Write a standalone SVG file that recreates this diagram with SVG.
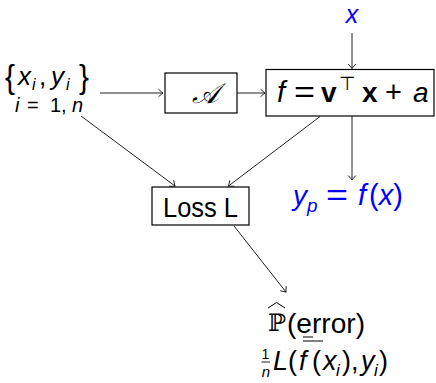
<svg xmlns="http://www.w3.org/2000/svg" width="436" height="383" viewBox="0 0 436 383">
<defs>
<style>
.t{font-family:"Liberation Sans","DejaVu Sans",sans-serif;fill:#000}
.m{font-style:italic}
.b{font-weight:bold}
.blue{fill:#0000ff}
.box{fill:#fff;stroke:#000;stroke-width:1.2}
.c{stroke:#222;stroke-width:1;fill:none}
</style>
<marker id="arr" markerWidth="10" markerHeight="10" refX="0" refY="0" viewBox="-6 -5 7 10" orient="auto" markerUnits="userSpaceOnUse">
<path d="M-4.5,-3.8 Q-1.2,-0.8 0,0 Q-1.2,0.8 -4.5,3.8" fill="none" stroke="#222" stroke-width="1"/>
</marker>
</defs>
<rect width="436" height="383" fill="#fff"/>
<g id="connectors">
<line class="c" x1="100" y1="93" x2="163" y2="93" marker-end="url(#arr)"/>
<line class="c" x1="237" y1="93" x2="265" y2="93" marker-end="url(#arr)"/>
<line class="c" x1="352" y1="33" x2="352" y2="68.5" marker-end="url(#arr)"/>
<line class="c" x1="352" y1="116" x2="352" y2="180" marker-end="url(#arr)"/>
<line class="c" x1="81" y1="116" x2="175" y2="186" marker-end="url(#arr)"/>
<line class="c" x1="320" y1="116.5" x2="228.5" y2="186" marker-end="url(#arr)"/>
<line class="c" x1="234" y1="226" x2="286" y2="292" marker-end="url(#arr)"/>
</g>
<g id="data">
<text class="t" x="5" y="88" font-size="34" textLength="10" lengthAdjust="spacingAndGlyphs">{</text>
<text class="t m" x="18" y="85" font-size="26">x</text>
<text class="t m" x="32" y="90" font-size="16">i</text>
<text class="t" x="39" y="85" font-size="26">,</text>
<text class="t m" x="51" y="85" font-size="26">y</text>
<text class="t m" x="66" y="90" font-size="16">i</text>
<text class="t" x="79" y="88" font-size="34" textLength="10" lengthAdjust="spacingAndGlyphs">}</text>
<text class="t" x="15" y="112" font-size="20"><tspan class="m">i</tspan><tspan x="27">=</tspan><tspan x="50">1,</tspan><tspan x="72" class="m">n</tspan></text>
</g>
<g id="algo">
<rect class="box" x="165" y="73" width="72" height="40"/>
<text class="t m" x="205" y="103" font-size="28" text-anchor="middle" font-family="'DejaVu Serif',serif">𝒜</text>
</g>
<g id="model">
<rect class="box" x="266" y="69.5" width="168" height="46.5"/>
<text class="t m" x="277" y="102" font-size="29">f</text>
<text class="t" x="294" y="102" font-size="29" textLength="21" lengthAdjust="spacingAndGlyphs">=</text>
<text class="t b" x="321" y="102" font-size="28">v</text>
<text class="t" x="339" y="90" font-size="19">⊤</text>
<text class="t b" x="362" y="102" font-size="28">x</text>
<text class="t" x="385" y="102" font-size="29">+</text>
<text class="t m" x="413" y="102" font-size="28">a</text>
</g>
<g id="input">
<text class="t m blue" x="352" y="23" font-size="25" text-anchor="middle">x</text>
</g>
<g id="prediction">
<text class="t m blue" x="293" y="205" font-size="28">y</text>
<text class="t m blue" x="307" y="212" font-size="19">p</text>
<text class="t blue" x="326" y="205" font-size="29" textLength="22" lengthAdjust="spacingAndGlyphs">=</text>
<text class="t m blue" x="358" y="205" font-size="29">f</text>
<text class="t blue" x="369" y="205" font-size="29">(<tspan class="m">x</tspan>)</text>
</g>
<g id="loss">
<rect class="box" x="152" y="187" width="97" height="38"/>
<text class="t" x="163" y="216.5" font-size="27" textLength="75" lengthAdjust="spacingAndGlyphs">Loss L</text>
</g>
<g id="error">
<polyline points="268,308 276.5,302.5 285,308" fill="none" stroke="#000" stroke-width="1"/>
<text x="268" y="331" font-size="24" font-family="'DejaVu Serif',serif">ℙ</text>
<text class="t" x="287" y="333" font-size="27" textLength="78" lengthAdjust="spacingAndGlyphs">(error)</text>
<line x1="303" y1="337" x2="313" y2="337" stroke="#000" stroke-width="1"/>
<line x1="303" y1="341" x2="323" y2="341" stroke="#000" stroke-width="1"/>
<text class="t" x="265.5" y="359" font-size="14" text-anchor="middle">1</text>
<line x1="261.5" y1="362" x2="270" y2="362" stroke="#000" stroke-width="0.9"/>
<text class="t m" x="266" y="377" font-size="15" text-anchor="middle">n</text>
<text class="t" x="273" y="370" font-size="27"><tspan class="m">L</tspan><tspan x="288">(</tspan><tspan x="299" class="m">f</tspan><tspan x="312">(</tspan><tspan x="323" class="m">x</tspan><tspan x="336" y="376" font-size="17" class="m">i</tspan><tspan x="342" y="370">),</tspan><tspan x="361" class="m">y</tspan><tspan x="374" y="376" font-size="17" class="m">i</tspan><tspan x="379" y="370">)</tspan></text>
</g>
</svg>
